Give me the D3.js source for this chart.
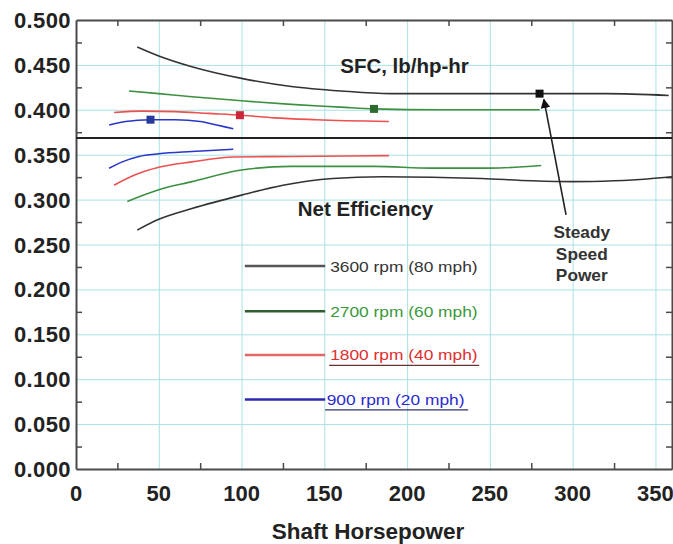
<!DOCTYPE html>
<html>
<head>
<meta charset="utf-8">
<script src="https://cdn.jsdelivr.net/npm/d3@7"></script>
<style>
  html, body { margin: 0; padding: 0; background: #fff; }
  svg { display: block; }
</style>
</head>
<body>
<svg id="chart" width="673" height="544"></svg>
<script>
// series labels and colours
const rpmLabels = ['3600 rpm (80 mph)', '2700 rpm (60 mph)', '1800 rpm (40 mph)', '900 rpm (20 mph)']
const lineColors = ['#333333', '#3c9040', '#ee5050', '#2a36c8']
const legendLineColors = ['#555555', '#2f5e2f', '#e06868', '#2a2ab0']
const textColors = ['#333333', '#3a983a', '#e02c2c', '#2a2ad0']
const markerColors = ['#111111', '#2d6a2d', '#c8283a', '#283a9c']

// SFC curves, [shaft hp, lb/hp-hr]
const sfc3600 = [[37, 0.470], [50, 0.460], [70, 0.448], [100, 0.435], [130, 0.426], [160, 0.421], [190, 0.418], [250, 0.418], [280, 0.418], [320, 0.418], [358, 0.416]]
const sfc2700 = [[32, 0.421], [50, 0.418], [70, 0.4145], [100, 0.410], [130, 0.406], [160, 0.403], [180, 0.401], [220, 0.400], [280, 0.400]]
const sfc1800 = [[23, 0.397], [40, 0.3985], [60, 0.398], [80, 0.396], [100, 0.394], [120, 0.391], [145, 0.389], [189, 0.387]]
const sfc900 = [[20, 0.383], [30, 0.387], [45, 0.389], [60, 0.389], [75, 0.387], [85, 0.383], [95, 0.379]]

// net efficiency curves, [shaft hp, efficiency]
const eff3600 = [[37, 0.266], [50, 0.278], [70, 0.290], [100, 0.305], [125, 0.316], [155, 0.3235], [185, 0.3255], [245, 0.3235], [275, 0.321], [300, 0.320], [325, 0.321], [345, 0.323], [360, 0.3255]]
const eff2700 = [[31, 0.298], [50, 0.311], [70, 0.320], [100, 0.333], [130, 0.337], [180, 0.337], [215, 0.335], [250, 0.335], [281, 0.338]]
const eff1800 = [[23, 0.316], [35, 0.327], [50, 0.336], [70, 0.342], [95, 0.3475], [130, 0.348], [189, 0.349]]
const eff900 = [[20, 0.335], [28, 0.342], [38, 0.348], [50, 0.351], [70, 0.3535], [95, 0.356]]

// steady speed power points on the SFC curves
const steadyHp = [280, 180, 99, 45]
const steadySfc = [0.418, 0.401, 0.394, 0.389]

// axis ticks
const xTicks = [0, 50, 100, 150, 200, 250, 300, 350]
const xMinor = [25, 75, 125, 175, 225, 275, 325]
const yTicks = [0, 0.05, 0.1, 0.15, 0.2, 0.25, 0.3, 0.35, 0.4, 0.45, 0.5]
const yMinor = [0.025, 0.075, 0.125, 0.175, 0.225, 0.275, 0.325, 0.375, 0.425, 0.475]
const dividerValue = 0.3685

// legend / annotation anchors (data units)
const legendY = [0.226, 0.1757, 0.127, 0.0775]
const legendX = [102, 150.5]

const sfcSeries = [sfc3600, sfc2700, sfc1800, sfc900]
const effSeries = [eff3600, eff2700, eff1800, eff900]

const svg = d3.select('#chart')
const plotLeft = 76, plotRight = 672, plotTop = 20, plotBottom = 469

const x = d3.scaleLinear().domain([0, 360]).range([plotLeft, plotRight])
const y = d3.scaleLinear().domain([0, 0.5]).range([plotBottom, plotTop])

const font = '"Liberation Sans", Arial, sans-serif'

// grid
svg.append('g')
    .attr('transform', `translate(0,${plotBottom})`)
    .call(d3.axisBottom(x).tickValues(xTicks.slice(1)).tickSize(-(plotBottom - plotTop)).tickFormat(''))
    .call(g => g.select('.domain').remove())
    .selectAll('line').attr('stroke', '#a9e2e4').attr('stroke-width', 1)

svg.append('g')
    .attr('transform', `translate(${plotLeft},0)`)
    .call(d3.axisLeft(y).tickValues(yTicks.slice(1, -1)).tickSize(-(plotRight - plotLeft)).tickFormat(''))
    .call(g => g.select('.domain').remove())
    .selectAll('line').attr('stroke', '#a9e2e4').attr('stroke-width', 1)

// frame with inward minor ticks
const frame = (g) => {
    g.select('.domain').attr('stroke', '#4a4a4a').attr('stroke-width', 2)
    g.selectAll('.tick line').attr('stroke', '#4a4a4a').attr('stroke-width', 1.5)
}
svg.append('g').attr('transform', `translate(0,${plotBottom})`)
    .call(d3.axisBottom(x).tickValues(xMinor).tickSize(-6).tickSizeOuter(0).tickFormat('')).call(frame)
svg.append('g').attr('transform', `translate(0,${plotTop})`)
    .call(d3.axisTop(x).tickValues(xMinor).tickSize(-6).tickSizeOuter(0).tickFormat('')).call(frame)
svg.append('g').attr('transform', `translate(${plotLeft},0)`)
    .call(d3.axisLeft(y).tickValues(yMinor).tickSize(-6).tickSizeOuter(0).tickFormat('')).call(frame)
svg.append('g').attr('transform', `translate(${plotRight},0)`)
    .call(d3.axisRight(y).tickValues(yMinor).tickSize(-6).tickSizeOuter(0).tickFormat('')).call(frame)

// tick labels
svg.append('g')
    .selectAll('text')
    .data(xTicks)
    .join('text')
    .attr('x', d => x(d))
    .attr('y', plotBottom + 32)
    .attr('text-anchor', 'middle')
    .attr('font-family', font)
    .attr('font-weight', 'bold')
    .attr('font-size', 22)
    .attr('fill', '#222')
    .text(d => d)

svg.append('g')
    .selectAll('text')
    .data(yTicks)
    .join('text')
    .attr('x', plotLeft - 5)
    .attr('y', d => y(d) + 8)
    .attr('text-anchor', 'end')
    .attr('font-family', font)
    .attr('font-weight', 'bold')
    .attr('font-size', 22)
    .attr('letter-spacing', 0.4)
    .attr('fill', '#222')
    .text(d => d3.format('.3f')(d))

svg.append('text')
    .attr('x', (plotLeft + plotRight) / 2 - 6)
    .attr('y', 539)
    .attr('text-anchor', 'middle')
    .attr('font-family', font)
    .attr('font-weight', 'bold')
    .attr('font-size', 22.5)
    .attr('fill', '#222')
    .text('Shaft Horsepower')

// divider between the two families of curves
svg.append('line')
    .attr('x1', plotLeft).attr('x2', plotRight)
    .attr('y1', y(dividerValue)).attr('y2', y(dividerValue))
    .attr('stroke', '#222')
    .attr('stroke-width', 2)

// curves
const line = d3.line()
    .x(d => x(d[0]))
    .y(d => y(d[1]))
    .curve(d3.curveMonotoneX)

svg.append('g')
    .selectAll('path')
    .data(sfcSeries.concat(effSeries))
    .join('path')
    .attr('d', line)
    .attr('fill', 'none')
    .attr('stroke', (d, i) => lineColors[i % 4])
    .attr('stroke-width', 1.6)

// steady speed markers
svg.append('g')
    .selectAll('rect')
    .data(steadyHp)
    .join('rect')
    .attr('x', d => x(d) - 4)
    .attr('y', (d, i) => y(steadySfc[i]) - 4)
    .attr('width', 8)
    .attr('height', 8)
    .attr('fill', (d, i) => markerColors[i])

// labels inside the plot
const stretched = (sel, px, py, sx) => sel.attr('transform', `translate(${px},${py}) scale(${sx},1)`)

svg.append('text')
    .call(stretched, x(159.6), y(0.4405), 1.05)
    .attr('font-family', font).attr('font-weight', 'bold').attr('font-size', 19.5).attr('fill', '#222')
    .text('SFC, lb/hp-hr')

svg.append('text')
    .call(stretched, x(134), y(0.2815), 1.05)
    .attr('font-family', font).attr('font-weight', 'bold').attr('font-size', 19.5).attr('fill', '#222')
    .text('Net Efficiency')

const steadyText = svg.append('text')
    .call(stretched, x(305.5), y(0.257), 1.08)
    .attr('text-anchor', 'middle')
    .attr('font-family', font).attr('font-weight', 'bold').attr('font-size', 16).attr('fill', '#333')
steadyText.selectAll('tspan')
    .data(['Steady', 'Speed', 'Power'])
    .join('tspan')
    .attr('x', 0)
    .attr('dy', (d, i) => i === 0 ? 0 : 21.5)
    .text(d => d)

// arrow to the 3600 rpm steady point
svg.append('defs').append('marker')
    .attr('id', 'arrow')
    .attr('viewBox', '0 0 10 10')
    .attr('refX', 9).attr('refY', 5)
    .attr('markerWidth', 6).attr('markerHeight', 6)
    .attr('markerUnits', 'strokeWidth')
    .attr('orient', 'auto')
    .append('path')
    .attr('d', 'M0,0L10,5L0,10z')
    .attr('fill', '#111')

svg.append('line')
    .attr('x1', x(296)).attr('y1', y(0.283))
    .attr('x2', x(282.6)).attr('y2', y(0.4115))
    .attr('stroke', '#222')
    .attr('stroke-width', 1.6)
    .attr('marker-end', 'url(#arrow)')

// legend
const legend = svg.append('g')
    .selectAll('g')
    .data(rpmLabels)
    .join('g')

legend.append('line')
    .attr('x1', x(legendX[0])).attr('x2', x(legendX[1]))
    .attr('y1', (d, i) => y(legendY[i])).attr('y2', (d, i) => y(legendY[i]))
    .attr('stroke', (d, i) => legendLineColors[i])
    .attr('stroke-width', 2.5)

legend.append('text')
    .each(function (d, i) {
        d3.select(this).call(stretched, x(legendX[1]) + (i === 3 ? 1.5 : 5), y(legendY[i]) + 5.5, 1.24)
    })
    .attr('font-family', font)
    .attr('font-size', 14)
    .attr('fill', (d, i) => textColors[i])
    .text(d => d)

// underlines under the two lower legend entries
legend.filter((d, i) => i >= 2)
    .append('line')
    .attr('x1', (d, i) => x(legendX[1]) + (i === 1 ? 0 : 4))
    .attr('x2', (d, i) => x(legendX[1]) + (i === 1 ? 143 : 154))
    .attr('y1', (d, i) => y(legendY[i + 2]) + 10.5)
    .attr('y2', (d, i) => y(legendY[i + 2]) + 10.5)
    .attr('stroke', (d, i) => i === 1 ? '#333366' : '#663333')
    .attr('stroke-width', 1.2)
</script>
</body>
</html>
